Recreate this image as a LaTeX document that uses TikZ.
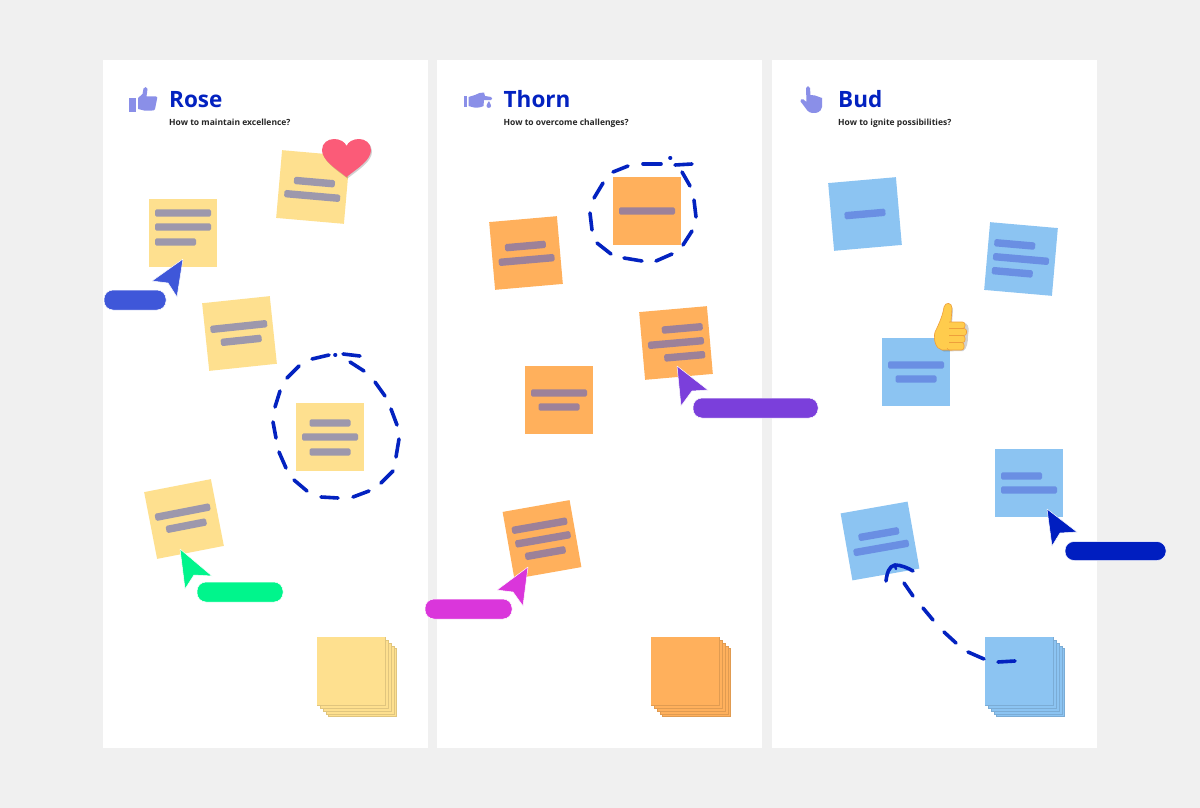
\documentclass[tikz,border=0pt]{standalone}
\usepackage{fontspec}
\setmainfont{Open Sans}
\usepackage{xcolor}

\definecolor{pagegray}{HTML}{F0F0F0}
\definecolor{inkblue}{HTML}{0322C0}
\definecolor{iconblue}{HTML}{8A8FE8}
\definecolor{roseyellow}{HTML}{FEE08F}
\definecolor{rosebar}{HTML}{9D98AC}
\definecolor{thornorange}{HTML}{FFB05C}
\definecolor{thornbar}{HTML}{9D8199}
\definecolor{budblue}{HTML}{8CC4F2}
\definecolor{budbar}{HTML}{6A8FE3}

\tikzset{
    panel/.style={fill=white},
    dashstroke/.style={draw=inkblue,line width=3.6pt,line cap=round},
    pointer/.style={draw=white,line width=0.5pt,line join=round},
    coltitle/.style={anchor=base west,inner sep=0pt,text=inkblue,font=\fontsize{22.5}{24}\selectfont\bfseries},
    colsub/.style={anchor=base west,inner sep=0pt,text=black!85,font=\fontsize{8.5}{10}\selectfont\bfseries},
}

% center x, center y, angle, fill, bar colour, bars as x/y/width
\newcommand{\stickynote}[6]{
    \begin{scope}[shift={(#1,#2)},rotate=#3]
        \fill [#4] (-34,-34) rectangle (34,34);
        \foreach \bx/\by/\bw in {#6}
            \fill [#5,rounded corners=1.6pt] ({\bx-\bw/2},{\by-3.7}) rectangle ({\bx+\bw/2},{\by+3.7});
    \end{scope}
}
% left x, top y, fill, edge colour
\newcommand{\notepile}[4]{
    \foreach \off in {11.5,9,6,3}
        \filldraw [fill=#3,draw=#4,line width=0.5pt] ({#1+\off},{#2+\off}) rectangle ({#1+\off+68},{#2+\off+68});
    \fill [#3] (#1,#2) rectangle ({#1+68},{#2+68});
    \draw [#4,line width=0.4pt] ({#1+68},#2) -- ({#1+68},{#2+68}) -- (#1,{#2+68});
}
% left, top, right, bottom, colour
\newcommand{\namepill}[5]{
    \filldraw [#5,pointer,rounded corners=9pt] (#1,#2) rectangle (#3,#4);
}

\begin{document}
\begin{tikzpicture}[x=1pt,y=-1pt]
    \fill [pagegray] (0,0) rectangle (1200,808);
    \useasboundingbox (0,0) rectangle (1200,808);

    % columns
    \fill [panel] (103,60) rectangle (428,748);
    \fill [panel] (437,60) rectangle (762,748);
    \fill [panel] (772,60) rectangle (1097,748);

    % headers
    \node [coltitle] (rosetitle) at (169,107) {Rose};
    \node [colsub] (rosesub) at (169,125) {How to maintain excellence?};
    \node [coltitle] (thorntitle) at (503.5,107) {Thorn};
    \node [colsub] (thornsub) at (503.5,125) {How to overcome challenges?};
    \node [coltitle] (budtitle) at (838,107) {Bud};
    \node [colsub] (budsub) at (838,125) {How to ignite possibilities?};

    % header icons
    \fill [iconblue] (129,98) rectangle (136,111.5);
    \fill [iconblue] (138,98) -- (142.5,94) -- (143.5,88.5) .. controls (144,86.5) and (147.5,86.5) .. (147.5,89) -- (146.5,96.5) -- (156,96.5) .. controls (157.5,96.5) and (157.5,98) .. (157,99) -- (155,109) .. controls (154.5,110.5) and (153,110.5) .. (152,110.5) -- (144,110.5) -- (138,109) -- cycle;
    \fill [iconblue] (463.5,96.5) rectangle (467,107);
    \fill [iconblue] (468.5,97) -- (475,95) .. controls (478,93) and (481,92.5) .. (484,92.5) -- (485,96) -- (491,97) .. controls (492.5,97.5) and (492.5,100) .. (491,100) -- (484,100) -- (483.5,106) .. controls (480,108) and (475,108) .. (472,107) -- (468.5,106) -- cycle;
    \fill [iconblue] (489,101) .. controls (487,104) and (486.5,105) .. (486.5,106) .. controls (486.5,108.5) and (491,108.5) .. (491,106) .. controls (491,105) and (490.5,104) .. (489,101) -- cycle;
    \fill [iconblue] (806,88) .. controls (806.5,85.5) and (809.5,85.5) .. (810,88) -- (810.5,95) -- (815,95.5) -- (822,98) -- (822,107) .. controls (821,112) and (817,113.5) .. (812,113) .. controls (808,112.5) and (806,109) .. (804,106) -- (800.5,101.5) .. controls (799.5,99.5) and (802,98.5) .. (803.5,99.5) -- (806.5,102) -- cycle;

    % Rose notes
    \stickynote{183}{233}{0}{roseyellow}{rosebar}{0/-20/56,0/-6/56,-7.5/9/41}
    \stickynote{313}{187}{-5}{roseyellow}{rosebar}{1/-5/41,0/9/56}
    \stickynote{239.5}{333.5}{6}{roseyellow}{rosebar}{0/-7/57,1/7/41}
    \stickynote{330}{437}{0}{roseyellow}{rosebar}{0/-14/41,0/0/56,0/15/41}
    \stickynote{184}{519}{11}{roseyellow}{rosebar}{0/-7/56,1/7/41}
    \notepile{317}{637}{roseyellow}{roseyellow!88!black}

    % Thorn notes
    \stickynote{647}{211}{0}{thornorange}{thornbar}{0/0/56}
    \stickynote{526}{253}{5}{thornorange}{thornbar}{0/-7/41,0/7/56}
    \stickynote{676}{343}{5}{thornorange}{thornbar}{7.5/-14/41,0/0/56,7.5/14/41}
    \stickynote{559}{400}{0}{thornorange}{thornbar}{0/-7/56,0/7/41}
    \stickynote{542}{539.5}{10}{thornorange}{thornbar}{0/-14/56,1/0/56,1/14/41}
    \notepile{651}{637}{thornorange}{thornorange!88!black}

    % Bud notes
    \stickynote{865}{214}{5}{budblue}{budbar}{0/0/41}
    \stickynote{1021}{259}{-5}{budblue}{budbar}{-7.5/-14/41,0/0/56,-7.5/14/41}
    \stickynote{916}{372}{0}{budblue}{budbar}{0/-7/56,0/7/41}
    \stickynote{1029}{483}{0}{budblue}{budbar}{-7.5/-7/41,0/7/56}
    \stickynote{880}{541}{10}{budblue}{budbar}{0/-7/41,0/7/56}
    \notepile{985}{637}{budblue}{budblue!88!black}

    % hand drawn circles and the arrow
    \foreach \ax/\ay/\bx/\by in {312/359/329/355,335/355/335.5/355,343/354/360/356,350/362/364/371,375/382/385/396,391/409/397/425,399/439/396/457,393/471/381/483,369/491/353/497,338/498/321/497,307/491/294/480,286/468/279/452,276/438/273/422,275/407/280/391,287/378/299/366}
        \draw [dashstroke] (\ax,\ay) -- (\bx,\by);
    \foreach \ax/\ay/\bx/\by in {613/172/628/166,643/164/661/164,670/158/670.5/158,675/165/692/164,682/172/690/186,694/200/696/217,692/231/683/245,672/254/656/261,642/261/624/258,611/254/597/243,592/230/590/213,594/198/603/183}
        \draw [dashstroke] (\ax,\ay) -- (\bx,\by);
    \foreach \ax/\ay/\bx/\by in {1015/661/998/662,984/659/968/652,956/643/944/632,933/620/923/608,913/596/904/583}
        \draw [dashstroke] (\ax,\ay) -- (\bx,\by);
    \draw [dashstroke] (886,581) .. controls (887,573) and (889,566) .. (895,565) .. controls (901,565) and (908,568) .. (913,571);
    \draw [dashstroke,line width=2.4pt] (895,566) -- (896,569);

    % heart
    \fill [black,opacity=.18] (347.5,178.5) .. controls (336,169.5) and (323,161.5) .. (323,151.5) .. controls (323,144.5) and (329,140.5) .. (335,140.5) .. controls (341,140.5) and (346,143.5) .. (347.5,147.5) .. controls (349,143.5) and (354,140.5) .. (360,140.5) .. controls (366,140.5) and (372,144.5) .. (372,151.5) .. controls (372,161.5) and (359,169.5) .. (347.5,178.5) -- cycle;
    \fill [fill={rgb,255:red,251;green,91;blue,120}] (346.5,177) .. controls (335,168) and (322,160) .. (322,150) .. controls (322,143) and (328,139) .. (334,139) .. controls (340,139) and (345,142) .. (346.5,146) .. controls (348,142) and (353,139) .. (359,139) .. controls (365,139) and (371,143) .. (371,150) .. controls (371,160) and (358,168) .. (346.5,177) -- cycle;

    % thumb
    \fill [black,opacity=.18] (936,334) .. controls (941,324) and (944,316) .. (945,309) .. controls (946,303) and (953,304) .. (953,310) -- (952,323) -- (966,323.5) .. controls (969,325) and (969,330) .. (968,336) .. controls (968,342) and (967,349) .. (963,351) -- (944,351.5) .. controls (938,350) and (935,342) .. (936,334) -- cycle;
    \filldraw [fill={rgb,255:red,255;green,204;blue,77},draw={rgb,255:red,238;green,159;blue,59},line width=0.6pt] (935,332) .. controls (940,322) and (943,314) .. (944,307) .. controls (945,302) and (952,302) .. (952,308) -- (951,322) -- (952,350) -- (942,350) .. controls (936,349) and (933,340) .. (935,332) -- cycle;
    \foreach \ty/\tx/\th in {322/965/6.5,328.5/966.5/7,335.5/965/7,342.5/964/7.5}
        \filldraw [fill={rgb,255:red,255;green,204;blue,77},draw={rgb,255:red,238;green,159;blue,59},line width=0.6pt,rounded corners=2.5pt] (947,\ty) rectangle (\tx,\ty+\th);
    \fill [fill={rgb,255:red,255;green,204;blue,77}] (942,318) rectangle (949,348);

    % cursors and name tags
    \filldraw [fill={rgb,255:red,63;green,87;blue,217},pointer] (183,259) -- (152,281) -- (168,283) -- (177,297) -- cycle;
    \namepill{104}{290}{166}{310}{fill={rgb,255:red,63;green,87;blue,217}}
    \filldraw [fill={rgb,255:red,0;green,245;blue,140},pointer] (180,549) -- (212,576) -- (194,575) -- (185,589) -- cycle;
    \namepill{197}{582}{283}{602}{fill={rgb,255:red,0;green,245;blue,140}}
    \filldraw [fill={rgb,255:red,218;green,54;blue,219},pointer] (528,567) -- (497,590) -- (513,592) -- (523,606) -- cycle;
    \namepill{425}{599}{512}{619}{fill={rgb,255:red,218;green,54;blue,219}}
    \filldraw [fill={rgb,255:red,123;green,63;blue,219},pointer] (677,366) -- (708,390) -- (692,391) -- (681,406) -- cycle;
    \namepill{693}{398}{818}{418}{fill={rgb,255:red,123;green,63;blue,219}}
    \filldraw [fill={rgb,255:red,0;green,30;blue,192},pointer] (1047,509) -- (1077,532) -- (1060,533) -- (1052,546) -- cycle;
    \namepill{1065}{541.5}{1166}{560.5}{fill={rgb,255:red,0;green,30;blue,192}}
\end{tikzpicture}
\end{document}
